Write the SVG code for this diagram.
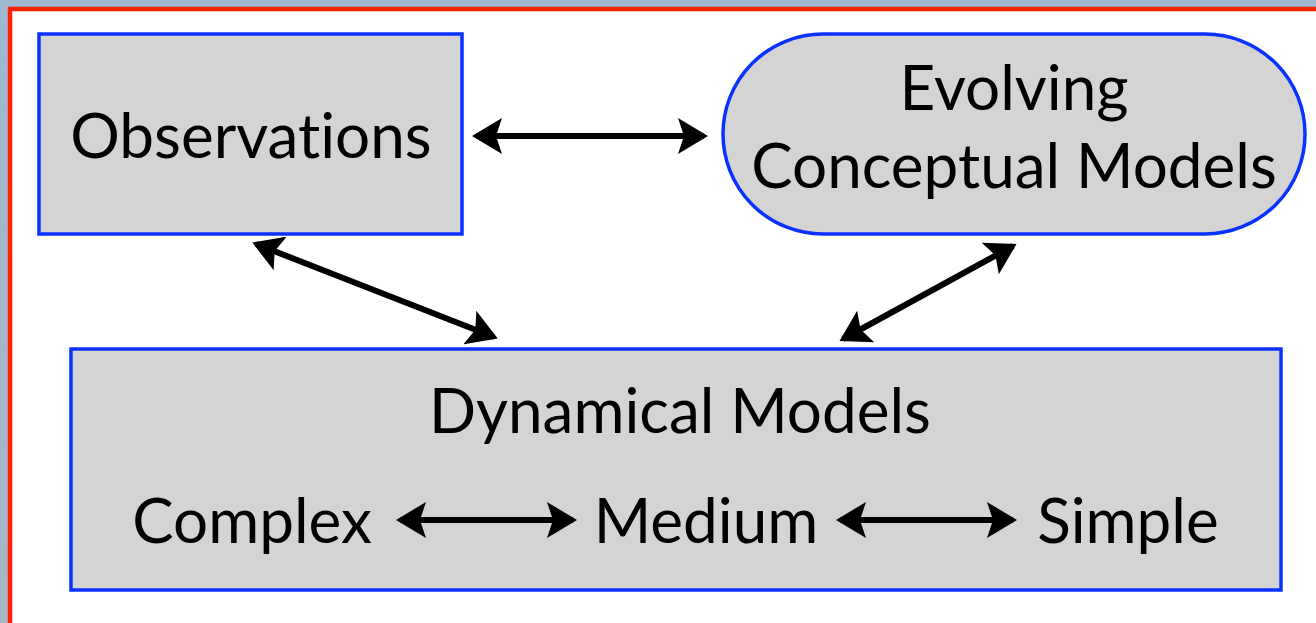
<svg xmlns="http://www.w3.org/2000/svg" width="1316" height="623" viewBox="0 0 1316 623">
<defs>
<linearGradient id="bg" x1="0" y1="0" x2="0" y2="1">
<stop offset="0" stop-color="#9fb8d2"/><stop offset="1" stop-color="#a6b6c6"/>
</linearGradient>
<marker id="ah" viewBox="0 0 30 36" refX="26" refY="18" markerWidth="30" markerHeight="36" markerUnits="userSpaceOnUse" orient="auto-start-reverse">
<path d="M0,0 L30,18 L0,36 L6,18 Z" fill="#000"/>
</marker>
<style>
.box{fill:#d4d4d4;stroke:#0a32ff;stroke-width:3.5}
.t{font-family:"Lato","Liberation Sans",sans-serif;font-size:62px;fill:#000;text-anchor:middle;font-variant-ligatures:none}
.c{stroke:#000;stroke-width:6;fill:none;marker-start:url(#ah);marker-end:url(#ah)}
</style>
</defs>
<rect x="0" y="0" width="1316" height="623" fill="url(#bg)"/>
<rect x="10" y="9" width="1330" height="640" fill="#fff" stroke="#ff2200" stroke-width="4.5"/>
<g id="observations">
<rect class="box" x="39" y="34" width="423" height="200"/>
<text class="t" x="251" y="158">Observations</text>
</g>
<g id="evolving">
<rect class="box" x="723" y="34" width="582" height="200" rx="100" ry="100"/>
<text class="t" x="1014" y="110">Evolving</text>
<text class="t" x="1014" y="188">Conceptual Models</text>
</g>
<g id="dynamical">
<rect class="box" x="71" y="349" width="1210" height="241"/>
<text class="t" x="680" y="433">Dynamical Models</text>
<text class="t" x="252" y="543">Complex</text>
<text class="t" x="706" y="543">Medium</text>
<text class="t" x="1128" y="543">Simple</text>
</g>
<g id="connectors">
<line class="c" x1="476" y1="136" x2="704" y2="136"/>
<line class="c" x1="256" y1="244" x2="494" y2="337"/>
<line class="c" x1="1013" y1="246" x2="843" y2="339"/>
<line class="c" x1="400" y1="520" x2="573" y2="520"/>
<line class="c" x1="840" y1="520" x2="1013" y2="520"/>
</g>
</svg>
